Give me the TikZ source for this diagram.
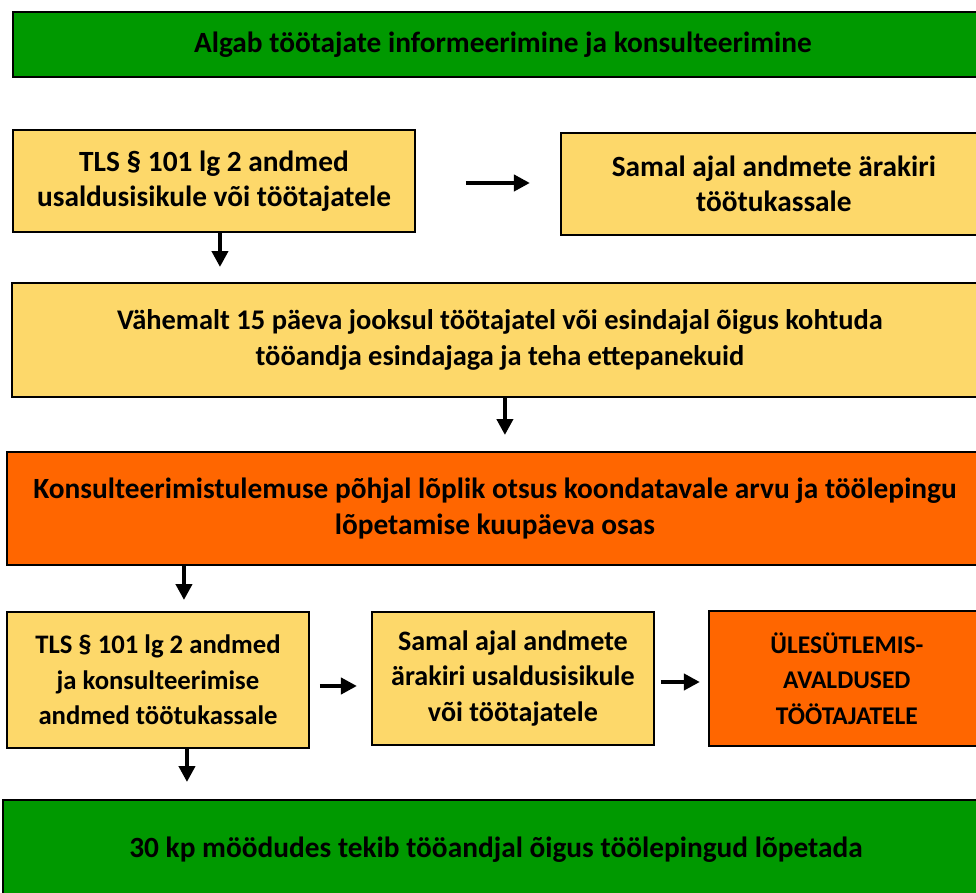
\documentclass[tikz,border=0pt]{standalone}
\usepackage{fontspec}
\setmainfont{Carlito}
\usepackage{xcolor}
\usetikzlibrary{positioning, arrows.meta}

\definecolor{rohe}{RGB}{0,153,0}
\definecolor{kollane}{RGB}{253,216,106}
\definecolor{oranz}{RGB}{255,102,0}

\begin{document}
\begin{tikzpicture}[x=0.02cm, y=-0.02cm, node distance=0cm, outer sep=0pt,
    kast/.style={draw, line width=1.1pt, align=center, inner sep=2pt,
      font=\fontsize{#1}{20.2}\selectfont\bfseries},
    kast/.default=16.7,
    nool/.style={line width=2.6pt, -{Triangle[length=0.32cm, width=0.32cm]}}]
    \useasboundingbox (0,0) rectangle (976,892);

    % Algus
    \node[kast, fill=rohe, minimum width=19.6cm, minimum height=1.3cm, anchor=north west] (algus) at (13,12)
    {Algab töötajate informeerimine ja konsulteerimine};

    % TLS andmed
    \node[kast, fill=kollane, minimum width=8.04cm, minimum height=2.04cm, anchor=north west] (tls) at (13,130)
    {TLS § 101 lg 2 andmed\\usaldusisikule või töötajatele};
    \node[kast, fill=kollane, minimum width=8.52cm, minimum height=2.04cm, right=2.92cm of tls, yshift=-0.06cm] (samal)
    {Samal ajal andmete ärakiri\\töötukassale};

    % 15 päeva
    \node[kast=16.2, fill=kollane, minimum width=19.52cm, minimum height=2.28cm, anchor=north west] (vahemalt) at (12,283)
    {Vähemalt 15 päeva jooksul töötajatel või esindajal õigus kohtuda\\tööandja esindajaga ja teha ettepanekuid};

    % Otsus
    \node[kast, fill=oranz, minimum width=19.52cm, minimum height=2.26cm, anchor=north west] (otsus) at (7,452)
    {Konsulteerimistulemuse põhjal lõplik otsus koondatavale arvu ja töölepingu\\lõpetamise kuupäeva osas};

    % Alumine rida
    \node[kast=15.2, fill=kollane, minimum width=6.04cm, minimum height=2.72cm, anchor=north west] (tlskassa) at (7,612)
    {TLS § 101 lg 2 andmed\\ja konsulteerimise\\andmed töötukassale};
    \node[kast=16, fill=kollane, minimum width=5.64cm, minimum height=2.66cm, right=1.26cm of tlskassa, yshift=0.03cm] (arakiri)
    {Samal ajal andmete\\ärakiri usaldusisikule\\või töötajatele};
    \node[kast=14.5, fill=oranz, minimum width=5.52cm, minimum height=2.7cm, right=1.1cm of arakiri] (ules)
    {ÜLESÜTLEMIS-\\AVALDUSED\\TÖÖTAJATELE};

    % Lõpp
    \node[kast, fill=rohe, minimum width=19.72cm, minimum height=2cm, anchor=north west] (lopp) at (3,800)
    {30 kp möödudes tekib tööandjal õigus töölepingud lõpetada};

    % Nooled
    \draw[nool, shorten <=1.02cm, shorten >=0.62cm] ([yshift=-0.04cm]tls.east) -- ([yshift=-0.04cm]tls.east -| samal.west);
    \draw[nool, shorten >=0.32cm] ([xshift=0.12cm]tls.south) -- ([xshift=0.12cm]tls.south |- vahemalt.north);
    \draw[nool, shorten >=0.34cm] ([xshift=0.1cm]vahemalt.south) -- ([xshift=0.1cm]vahemalt.south |- otsus.north);
    \draw[nool, shorten >=0.24cm] ([xshift=0.52cm]tlskassa.north |- otsus.south) -- ([xshift=0.52cm]tlskassa.north);
    \draw[nool, shorten <=0.22cm, shorten >=0.3cm] ([yshift=-0.12cm]tlskassa.east) -- ([yshift=-0.12cm]tlskassa.east -| arakiri.west);
    \draw[nool, shorten <=0.14cm, shorten >=0.18cm] ([yshift=-0.07cm]arakiri.east) -- ([yshift=-0.07cm]ules.west);
    \draw[nool, shorten >=0.36cm] ([xshift=0.58cm]tlskassa.south) -- ([xshift=0.58cm]tlskassa.south |- lopp.north);
  \end{tikzpicture}
\end{document}
